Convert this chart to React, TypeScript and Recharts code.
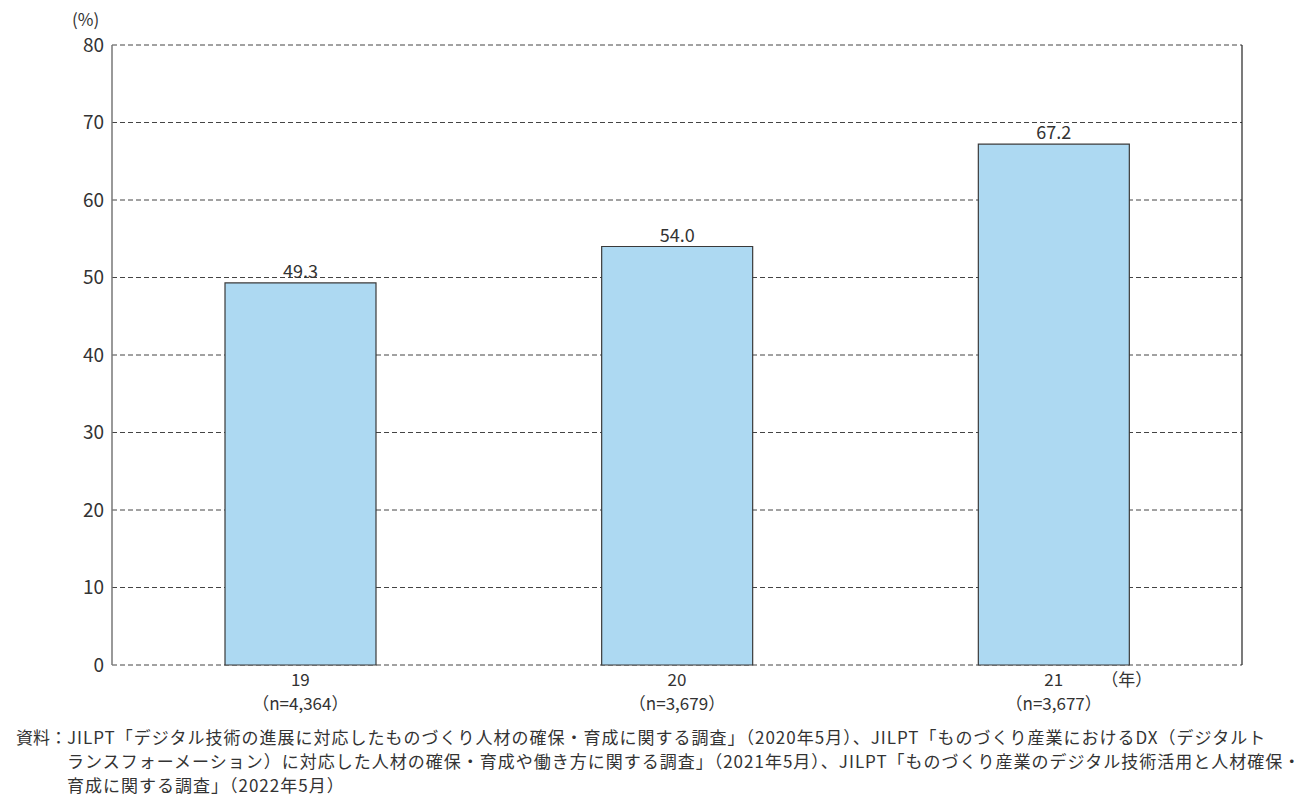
import { BarChart, Bar, XAxis, YAxis, CartesianGrid, LabelList } from "recharts";

const years = ["19", "20", "21"];
const sampleSizes = ["4,364", "3,679", "3,677"];
const shares = [49.3, 54.0, 67.2];
const yTicks = [0, 10, 20, 30, 40, 50, 60, 70, 80];
const boundaryTicks = [1, 2];

const chartData = years.map((year, i) => ({
  year,
  n: sampleSizes[i],
  value: shares[i],
  pos: i + 0.5,
}));

const FONT = "'Noto Sans CJK JP', 'Noto Sans', sans-serif";
const TEXT = "#333";

function YearTick(props: any) {
  const { x, y, payload, index } = props;
  const n = sampleSizes[index];
  return (
    <g fontFamily={FONT} fontSize={17} fill={TEXT}>
      <text x={x} y={y + 13} textAnchor="middle">{payload.value}</text>
      <text x={x} y={y + 37} textAnchor="middle">{`（n=${n}）`}</text>
      {index === years.length - 1 && (
        <text x={x + 73} y={y + 13} textAnchor="middle">（年）</text>
      )}
    </g>
  );
}

export default function App() {
  return (
    <div style={{ width: 1299, fontFamily: FONT, color: TEXT }}>
      <div style={{ position: "relative", width: 1299, height: 710 }}>
        <div
          style={{ position: "absolute", left: 64, top: 0, fontSize: 17, lineHeight: "22px" }}
        >
          (%)
        </div>
        <BarChart
          width={1299}
          height={710}
          data={chartData}
          margin={{ top: 37, right: 64, bottom: 3, left: 0 }}
          barCategoryGap="30%"
        >
          <CartesianGrid
            vertical={false}
            stroke="#444"
            strokeDasharray="5 3"
            yAxisId="left"
          />
          <XAxis
            xAxisId="bounds"
            type="number"
            dataKey="pos"
            domain={[0, 3]}
            ticks={boundaryTicks}
            mirror
            height={0}
            axisLine={false}
            tickLine={{ stroke: "#444" }}
            tickSize={6}
            tickFormatter={() => ""}
          />
          <XAxis
            xAxisId="cat"
            dataKey="year"
            height={50}
            axisLine={false}
            tickLine={false}
            tick={<YearTick />}
            interval={0}
          />
          <YAxis
            yAxisId="left"
            domain={[0, 80]}
            ticks={yTicks}
            width={104}
            axisLine={{ stroke: "#777", strokeWidth: 1.5 }}
            tickLine={false}
            tick={{ fontSize: 19, fill: TEXT, fontFamily: FONT }}
            interval={0}
          />
          <YAxis
            yAxisId="right"
            orientation="right"
            domain={[0, 80]}
            width={1}
            axisLine={{ stroke: "#222", strokeWidth: 1.2 }}
            tickLine={false}
            tick={false}
          />
          <Bar
            dataKey="value"
            xAxisId="cat"
            yAxisId="left"
            fill="#ADD9F2"
            stroke="#3a3a3a"
            strokeWidth={1.2}
            isAnimationActive={false}
          >
            <LabelList
              dataKey="value"
              position="top"
              offset={5}
              formatter={(v: any) => Number(v).toFixed(1)}
              style={{ fontSize: 18, fill: TEXT, fontFamily: FONT }}
            />
          </Bar>
        </BarChart>
      </div>
      <div
        style={{
          display: "flex",
          paddingLeft: 8,
          paddingTop: 7,
          fontSize: 17,
          lineHeight: "24px",
          letterSpacing: 1.0,
        }}
      >
        <div style={{ whiteSpace: "nowrap", letterSpacing: 0 }}>資料：</div>
        <div style={{ whiteSpace: "nowrap" }}>
          JILPT「デジタル技術の進展に対応したものづくり人材の確保・育成に関する調査」（2020年5月）、JILPT「ものづくり産業におけるDX（デジタルト
          <br />
          ランスフォーメーション）に対応した人材の確保・育成や働き方に関する調査」（2021年5月）、JILPT「ものづくり産業のデジタル技術活用と人材確保・
          <br />
          育成に関する調査」（2022年5月）
        </div>
      </div>
    </div>
  );
}
